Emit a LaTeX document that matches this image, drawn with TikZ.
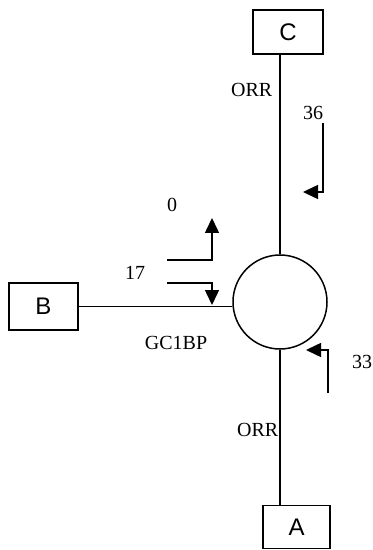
\documentclass[tikz,border=0pt]{standalone}
\usepackage{fontspec}
\setmainfont{Liberation Serif}
\newfontfamily\boxfont{Liberation Sans}
\usepackage{tikz}
\usetikzlibrary{arrows.meta,positioning}

\begin{document}
\begin{tikzpicture}[x=0.5pt,y=-0.5pt,
		line width=0.75pt,
		endbox/.style={draw,rectangle,inner sep=0pt,font=\boxfont\fontsize{12}{13}\selectfont},
		lbl/.style={inner sep=1pt,font=\fontsize{10}{11}\selectfont},
		flow/.style={-{Triangle[length=7.5pt,width=7pt]}}]
			\useasboundingbox (0,0) rectangle (372,550);
			
			\node[draw,circle,minimum size=47pt,inner sep=0pt] (hub) at (280,302) {};
			
			\node[endbox,minimum width=35pt,minimum height=22pt] (C) at (288,32) {C};
			\node[endbox,minimum width=34.5pt,minimum height=23.5pt] (B) at (43.5,306.5) {B};
			\node[endbox,minimum width=33.5pt,minimum height=21.5pt] (A) at (296.5,527) {A};
			
			\draw (C.south -| hub.north) -- (hub.north);
			\draw (hub.south) -- (A.north -| hub.south);
			\draw (B.east) -- (B.east -| hub.west);
			
			\node[lbl,anchor=east] (orrC) at (275,90) {ORR};
			\node[lbl,anchor=east] (orrA) at (281,430) {ORR};
			\node[lbl] (gc) at (176,343) {GC1BP};
			
			% flow arrows
			\coordinate (c36a) at (323,123);
			\coordinate (c36b) at (323,192);
			\coordinate (c36c) at (303,192);
			\draw[flow] (c36a) -- (c36b) -- (c36c);
			\node[lbl] (n36) at (313,113) {36};
			
			\coordinate (c0a) at (167,260);
			\coordinate (c0b) at (212,260);
			\coordinate (c0c) at (212,218);
			\draw[flow] (c0a) -- (c0b) -- (c0c);
			\node[lbl] (n0) at (172,205) {0};
			
			\coordinate (c17a) at (167,283);
			\coordinate (c17b) at (212,283);
			\coordinate (c17c) at (212,305);
			\draw[flow] (c17a) -- (c17b) -- (c17c);
			\node[lbl] (n17) at (135,273) {17};
			
			\coordinate (c33a) at (328,393);
			\coordinate (c33b) at (328,350);
			\coordinate (c33c) at (306,350);
			\draw[flow] (c33a) -- (c33b) -- (c33c);
			\node[lbl] (n33) at (362,362) {33};
			
		\end{tikzpicture}
\end{document}
